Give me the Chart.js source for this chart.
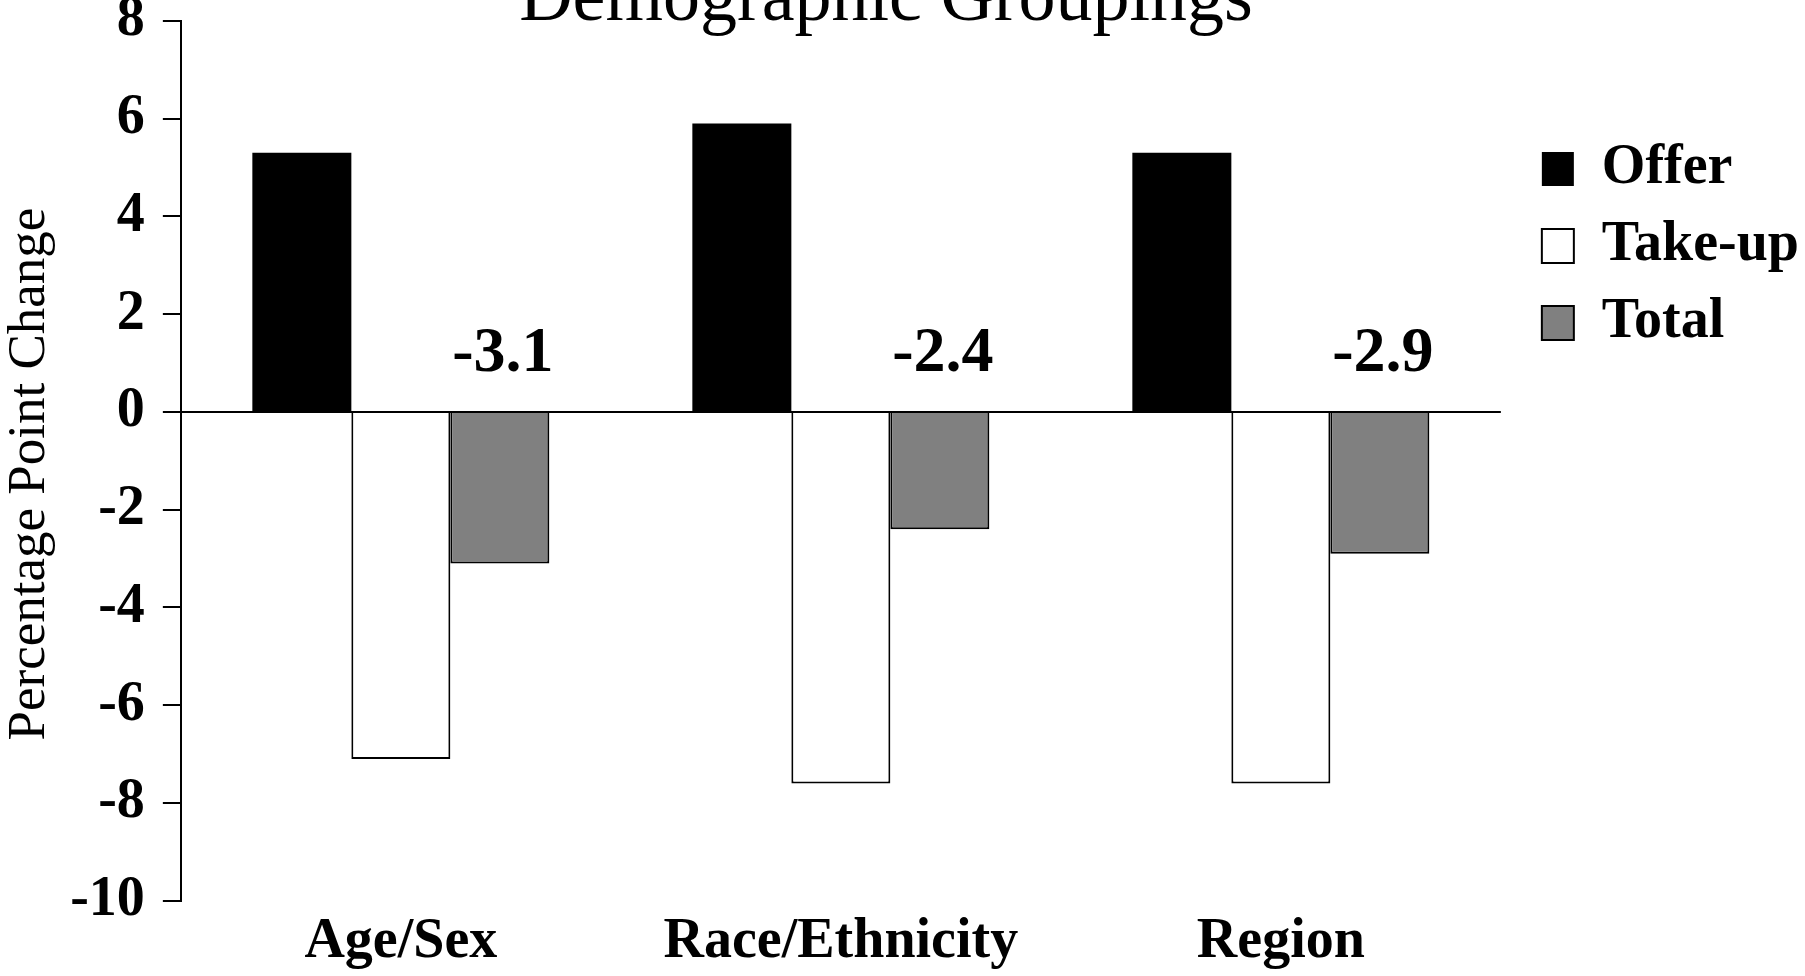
<!DOCTYPE html>
<html>
<head>
<meta charset="utf-8">
<script src="https://cdn.jsdelivr.net/npm/chart.js@4.4.1/dist/chart.umd.min.js"></script>
<style>
  html, body { margin: 0; padding: 0; background: #fff; overflow: hidden; }
  #wrap { width: 1805px; height: 976px; }
</style>
</head>
<body>
<div id="wrap"><canvas id="c" width="1805" height="976"></canvas></div>
<script>
// Percentage point change by demographic grouping
const categories = ['Age/Sex', 'Race/Ethnicity', 'Region'];
const seriesNames = ['Offer', 'Take-up', 'Total'];
const offer = [5.3, 5.9, 5.3];
const takeUp = [-7.1, -7.6, -7.6];
const total = [-3.1, -2.4, -2.9];
const yTicks = [8, 6, 4, 2, 0, -2, -4, -6, -8, -10];

const SERIF = "'Liberation Serif', 'Times New Roman', Times, serif";

// Writes the value of each "Total" bar above the zero line
const totalLabels = {
  id: 'totalLabels',
  afterDatasetsDraw(chart) {
    const meta = chart.getDatasetMeta(2);
    const y0 = chart.scales.y.getPixelForValue(0);
    const ctx = chart.ctx;
    ctx.save();
    ctx.font = 'bold 64px ' + SERIF;
    ctx.fillStyle = '#000';
    ctx.textAlign = 'center';
    ctx.textBaseline = 'alphabetic';
    meta.data.forEach((bar, i) => {
      ctx.fillText(total[i].toFixed(1), bar.x + 3, y0 - 41);
    });
    ctx.restore();
  }
};

new Chart(document.getElementById('c'), {
  type: 'bar',
  data: {
    labels: categories,
    datasets: [
      { label: seriesNames[0], data: offer, backgroundColor: '#000000', borderColor: '#000000', borderWidth: 0 },
      { label: seriesNames[1], data: takeUp, backgroundColor: '#ffffff', borderColor: '#000000', borderWidth: 2 },
      { label: seriesNames[2], data: total, backgroundColor: '#808080', borderColor: '#000000', borderWidth: 2 }
    ]
  },
  options: {
    responsive: false,
    devicePixelRatio: 1,
    animation: false,
    categoryPercentage: 0.675,
    barPercentage: 1.0,
    layout: { padding: { left: 0, right: -4, top: 0, bottom: -8 } },
    plugins: {
      tooltip: { enabled: false },
      title: {
        display: true,
        text: 'Demographic Groupings  ',
        color: '#000',
        font: { family: SERIF, size: 74, weight: 'normal', lineHeight: 0.02 },
        padding: { top: 0, bottom: 19 }
      },
      legend: {
        position: 'right',
        align: 'start',
        title: { display: true, text: '', font: { size: 12, lineHeight: 1 }, padding: { top: 108, bottom: 0 } },
        labels: {
          color: '#000',
          font: { family: SERIF, size: 56, weight: 'bold' },
          boxWidth: 32,
          boxHeight: 34,
          padding: 21
        }
      }
    },
    scales: {
      x: {
        grid: { display: false, drawTicks: false },
        border: { display: false },
        ticks: {
          color: '#000',
          padding: 8,
          font: { family: SERIF, size: 56, weight: 'bold', lineHeight: 1.2 }
        }
      },
      y: {
        z: 1,
        min: Math.min(...yTicks),
        max: Math.max(...yTicks),
        afterBuildTicks: (scale) => { scale.ticks = yTicks.map(v => ({ value: v })); },
        grid: {
          color: (ctx) => (ctx.tick && ctx.tick.value === 0 ? '#000' : 'rgba(0,0,0,0)'),
          lineWidth: 2,
          tickColor: '#000',
          tickWidth: 2,
          tickLength: 18
        },
        border: { display: true, color: '#000', width: 2 },
        ticks: {
          color: '#000',
          padding: 18,
          font: { family: SERIF, size: 56, weight: 'bold', lineHeight: 0.1 }
        },
        title: {
          display: true,
          text: 'Percentage Point Change  ',
          color: '#000',
          font: { family: SERIF, size: 53, weight: 'normal', lineHeight: 0.834 },
          padding: { top: 8, bottom: 0 }
        }
      },
      spacer: {
        type: 'linear',
        position: 'right',
        display: true,
        grid: { display: false, drawTicks: false },
        border: { display: false },
        ticks: { display: false },
        afterFit: (scale) => { scale.width = 20; }
      }
    }
  },
  plugins: [totalLabels]
});
</script>
</body>
</html>
